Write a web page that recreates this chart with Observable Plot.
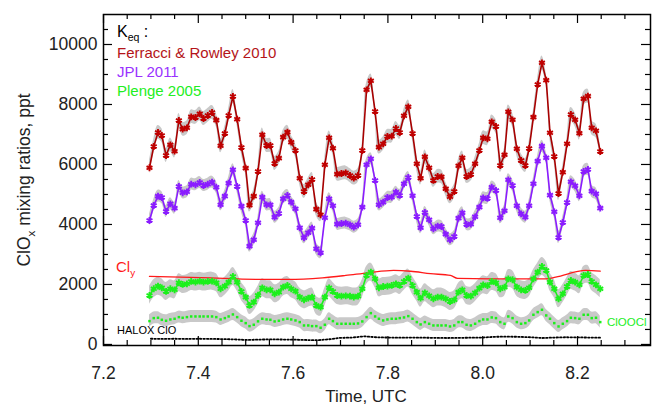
<!DOCTYPE html>
<html><head><meta charset="utf-8">
<script src="https://cdn.jsdelivr.net/npm/d3@7"></script>
<script src="https://cdn.jsdelivr.net/npm/@observablehq/plot@0.6"></script>
<style>
body{margin:0;background:#fff;}
#chart{width:653px;height:408px;}
svg text{font-family:"Liberation Sans",Arial,Helvetica,sans-serif;}
</style></head><body><div id="chart"></div>
<script>
// ---- data (time in hours UTC, mixing ratios in ppt) ----
const time = [
7.297,7.306,7.315,7.323,7.332,7.341,7.350,7.359,7.367,7.376,
7.385,7.394,7.403,7.411,7.420,7.429,7.438,7.447,7.456,7.464,
7.473,7.482,7.491,7.500,7.508,7.517,7.526,7.535,7.544,7.552,
7.561,7.570,7.579,7.588,7.596,7.605,7.614,7.623,7.632,7.640,
7.649,7.658,7.667,7.676,7.684,7.693,7.702,7.711,7.720,7.728,
7.737,7.746,7.755,7.764,7.773,7.781,7.790,7.799,7.808,7.817,
7.825,7.834,7.843,7.852,7.861,7.869,7.878,7.887,7.896,7.905,
7.913,7.922,7.931,7.940,7.949,7.957,7.966,7.975,7.984,7.993,
8.001,8.010,8.019,8.028,8.037,8.046,8.054,8.063,8.072,8.081,
8.090,8.098,8.107,8.116,8.125,8.134,8.142,8.151,8.160,8.169,
8.178,8.186,8.195,8.204,8.213,8.222,8.230,8.239,8.248];

const ferracci = [
5890,6600,7067,6967,6300,6656,6444,7467,7178,7222,
7589,7567,7689,7533,7633,7733,7478,6622,7033,7633,
8267,7511,6567,5878,4644,4944,5767,6989,6633,6633,
6033,6211,6911,7078,6744,6467,5544,5100,5322,5500,
4511,4322,5989,6889,6544,5678,5700,5722,5633,5544,
5633,6467,8489,8789,7767,6578,6689,6933,6944,7200,
7067,7622,7922,7033,6022,5544,6256,5889,5467,5600,
5589,5189,4922,5100,5956,6222,5600,5667,6022,6467,
6889,6856,7422,7267,5967,6322,7756,7489,6522,6133,
5967,6533,7578,8667,9389,8811,7056,6267,5033,5744,
6689,7667,7489,7044,8189,8278,7222,7122,6433];

const jpl = [
4133,4633,4944,4900,4433,4689,4544,5267,5056,5089,
5344,5322,5400,5300,5344,5411,5244,4656,4944,5378,
5822,5267,4611,4133,3278,3489,4056,4911,4656,4656,
4244,4367,4856,4967,4744,4522,3889,3556,3722,3878,
3189,3056,4222,4856,4622,4011,4033,4044,3989,3911,
3989,4578,5989,6189,5467,4656,4744,4900,4911,5078,
4967,5356,5567,4956,4267,3889,4400,4156,3856,3944,
3933,3678,3489,3600,4211,4389,4000,4011,4256,4578,
4889,4867,5244,5133,4222,4456,5489,5300,4622,4356,
4244,4622,5356,6111,6611,6222,4978,4422,3567,4067,
4733,5422,5289,4956,5767,5833,5111,5022,4544];

const plenge = [
1633,1856,1944,1889,1767,1856,1822,2056,2000,2022,
2100,2078,2111,2078,2100,2111,2056,1856,1944,2078,
2267,2078,1767,1578,1300,1411,1640,1889,1822,1822,
1689,1744,1911,1967,1856,1778,1578,1489,1544,1578,
1300,1244,1578,1889,1767,1633,1611,1622,1611,1578,
1611,1856,2300,2411,2189,1889,1933,1944,1967,2022,
1967,2100,2211,1967,1744,1544,1722,1622,1522,1578,
1578,1522,1433,1489,1744,1822,1633,1611,1722,1878,
1989,1960,2100,2056,1856,1911,2189,2156,1911,1822,
1800,1889,2189,2411,2600,2467,2078,1856,1522,1689,
1933,2133,2078,1989,2300,2333,2100,1989,1856];

const cloocl = [
778,878,889,822,789,833,856,911,889,911,
933,933,933,933,933,933,911,833,878,933,
1000,911,789,711,611,656,770,856,833,822,
767,789,833,856,833,800,745,633,633,611,
611,556,656,856,778,689,689,689,689,689,
700,767,911,1044,933,856,800,833,856,856,
878,900,944,856,745,667,745,689,633,633,
633,633,600,633,745,745,656,633,689,778,
833,833,900,878,745,689,933,878,745,689,
711,800,989,1078,1156,967,856,711,600,689,
778,889,878,856,989,989,878,889,745];

const haloxTime = [7.300,7.325,7.350,7.375,7.400,7.425,7.450,7.475,7.500,7.525,
7.550,7.575,7.600,7.625,7.650,7.675,7.700,7.725,7.750,7.775,
7.800,7.825,7.850,7.875,7.900,7.925,7.950,7.975,8.000,8.025,
8.050,8.075,8.100,8.125,8.150,8.175,8.200,8.225,8.248];
const haloxClO = [190,185,190,185,190,185,180,170,150,160,
170,165,160,150,140,170,220,230,270,240,
230,225,230,225,220,215,220,225,230,255,
260,255,240,215,230,240,235,230,225];

const clyTime = [7.297,7.405,7.531,7.590,7.662,7.711,7.759,7.812,7.848,7.890,7.932,7.947,8.016,8.133,8.154,8.217,8.248];
const cly = [2267,2230,2170,2167,2222,2300,2389,2467,2440,2360,2300,2200,2189,2189,2244,2467,2444];

// uncertainty half-widths of the grey envelopes (ppt)
const errFerracci = 230, errJPL = 200, errPlenge = 300, errClOOCl = 200;

const xTicks = [7.2,7.4,7.6,7.8,8.0,8.2];
const xMinorTicks = [7.25,7.3,7.35,7.45,7.5,7.55,7.65,7.7,7.75,7.85,7.9,7.95,8.05,8.1,8.15,8.25,8.3];
const yTicks = [0,2000,4000,6000,8000,10000];
const yMinorTicks = [500,1000,1500,2500,3000,3500,4500,5000,5500,6500,7000,7500,8500,9000,9500,10500];

// ---- layout ----
const W = 653, H = 408, mL = 103, mR = 3, mT = 14, mB = 63;
const fw = W - mL - mR, fh = H - mT - mB;

const rows = time.map((t, i) => ({t, f: ferracci[i], j: jpl[i], p: plenge[i], c: cloocl[i]}));
const haloxRows = haloxTime.map((t, i) => ({t, v: haloxClO[i]}));
const clyRows = clyTime.map((t, i) => ({t, v: cly[i]}));

const PURPLE = "#8a1cff", GREEN = "#1cf01c", GREY = "#c9c9c9";

const band = (key, err) => Plot.areaY(rows, {x: "t", y1: d => d[key] - err, y2: d => d[key] + err, fill: GREY, curve: "catmull-rom"});

const plot = Plot.plot({
  width: W, height: H,
  marginLeft: mL, marginRight: mR, marginTop: mT, marginBottom: mB,
  style: {fontFamily: "'Liberation Sans', Arial, Helvetica, sans-serif", background: "#fff"},
  x: {domain: [7.2, 8.354], label: null},
  y: {domain: [-35, 11000], label: null},
  marks: [
    band("f", errFerracci),
    band("j", errJPL),
    band("p", errPlenge),
    band("c", errClOOCl),
    Plot.line(clyRows, {x: "t", y: "v", stroke: "#ff1a1a", strokeWidth: 1.3, curve: "monotone-x"}),
    Plot.line(rows, {x: "t", y: "f", stroke: "#a80000", strokeWidth: 1.6}),
    Plot.line(rows, {x: "t", y: "j", stroke: PURPLE, strokeWidth: 1.6}),
    Plot.line(rows, {x: "t", y: "p", stroke: GREEN, strokeWidth: 1.6}),
    Plot.dot(rows, {x: "t", y: "f", symbol: "asterisk", r: 3.2, stroke: "#c00000", strokeWidth: 1.9}),
    Plot.dot(rows, {x: "t", y: "j", symbol: "asterisk", r: 3.2, stroke: PURPLE, strokeWidth: 1.9}),
    Plot.dot(rows, {x: "t", y: "p", symbol: "asterisk", r: 3.2, stroke: GREEN, strokeWidth: 1.9}),
    Plot.dot(rows, {x: "t", y: "c", symbol: "square", r: 1.4, fill: GREEN, stroke: null}),
    Plot.line(haloxRows, {x: "t", y: "v", stroke: "#000", strokeWidth: 1.8, strokeDasharray: "1.5,2"}),
    // inward tick marks on all four sides
    Plot.tickX(xTicks, {x: d => d, insetTop: fh - 9, stroke: "#000", strokeWidth: 1.2}),
    Plot.tickX(xTicks, {x: d => d, insetBottom: fh - 9, stroke: "#000", strokeWidth: 1.2}),
    Plot.tickX(xMinorTicks, {x: d => d, insetTop: fh - 5, stroke: "#000", strokeWidth: 1.2}),
    Plot.tickX(xMinorTicks, {x: d => d, insetBottom: fh - 5, stroke: "#000", strokeWidth: 1.2}),
    Plot.tickY(yTicks, {y: d => d, insetRight: fw - 9, stroke: "#000", strokeWidth: 1.2}),
    Plot.tickY(yTicks, {y: d => d, insetLeft: fw - 9, stroke: "#000", strokeWidth: 1.2}),
    Plot.tickY(yMinorTicks, {y: d => d, insetRight: fw - 5, stroke: "#000", strokeWidth: 1.2}),
    Plot.tickY(yMinorTicks, {y: d => d, insetLeft: fw - 5, stroke: "#000", strokeWidth: 1.2}),
    Plot.frame({stroke: "#000", strokeWidth: 1.5}),
    Plot.axisX(xTicks, {anchor: "bottom", tickSize: 0, tickPadding: 21, tickFormat: d => d.toFixed(1), fontSize: 17.5, fill: "#222", label: null}),
    Plot.axisY(yTicks, {anchor: "left", tickSize: 0, tickPadding: 6, tickFormat: d => String(d), fontSize: 17.5, fill: "#222", label: null})
  ]
});
document.getElementById("chart").appendChild(plot);

// ---- text labels (titles, legend, annotations) ----
const svg = d3.select(plot);
const g = svg.append("g").attr("font-family", "'Liberation Sans', Arial, Helvetica, sans-serif");
function label(x, y, size, color, parts, anchor) {
  const t = g.append("text").attr("x", x).attr("y", y).attr("font-size", size).attr("fill", color)
    .attr("text-anchor", anchor || "start");
  let shift = 0;
  for (const [s, sub] of parts) {
    const sp = t.append("tspan").text(s);
    if (sub) { shift = Math.round(size * 0.28); sp.attr("font-size", size * 0.66).attr("dy", shift); }
    else if (shift) { sp.attr("dy", -shift); shift = 0; }
  }
  return t;
}
label(117, 37, 16, "#000", [["K"], ["eq", true], [" :"]]);
label(117, 58, 15, "#b41419", [["Ferracci & Rowley 2010"]]);
label(117, 77, 15, "#9932ff", [["JPL 2011"]]);
label(117, 96, 15, "#22ee22", [["Plenge 2005"]]);
label(116, 272, 15, "#ff1a1a", [["Cl"], ["y", true]]);
label(117, 334, 11, "#000", [["HALOX ClO"]]);
label(607, 326, 11.5, "#22ee22", [["ClOOCl"]]);
label(366, 402, 17, "#222", [["Time, UTC"]], "middle");
const yt = label(0, 0, 17.5, "#222", [["ClO"], ["x", true], [" mixing ratios, ppt"]], "middle");
yt.attr("transform", "translate(30,180) rotate(-90)");
</script>
</body></html>
